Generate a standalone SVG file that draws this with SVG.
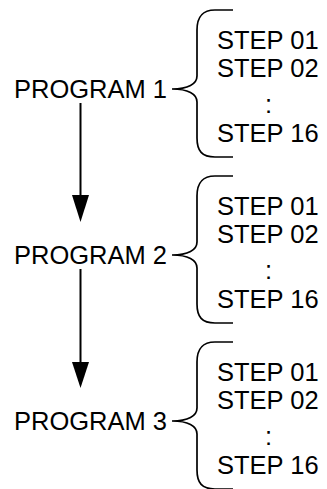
<svg xmlns="http://www.w3.org/2000/svg" width="327" height="489" viewBox="0 0 327 489">
<defs>
<style>
text{font-family:"Liberation Sans",Arial,sans-serif;font-size:25.5px;fill:#000}
.brace{fill:none;stroke:#000;stroke-width:1.7}
.conn line{stroke:#000;stroke-width:2}
.conn polygon{fill:#000}
</style>
<path id="br" class="brace" d="M233,10 H215 C202,10 197,17 197,30 V76 C197,84 188,89 172,89 C188,89 197,94 197,102 V138 C197,151 202,157 215,157 H233"/>
</defs>
<rect width="327" height="489" fill="#fff"/>
<g id="program1">
<use href="#br"/>
<text x="14" y="98">PROGRAM 1</text>
<text x="217" y="49">STEP 01</text>
<text x="217" y="77">STEP 02</text>
<text x="265" y="113">:</text>
<text x="217" y="142">STEP 16</text>
</g>
<g id="program2" transform="translate(0,166)">
<use href="#br"/>
<text x="14" y="98">PROGRAM 2</text>
<text x="217" y="49">STEP 01</text>
<text x="217" y="77">STEP 02</text>
<text x="265" y="113">:</text>
<text x="217" y="142">STEP 16</text>
</g>
<g id="program3" transform="translate(0,332)">
<use href="#br"/>
<text x="14" y="98">PROGRAM 3</text>
<text x="217" y="49">STEP 01</text>
<text x="217" y="77">STEP 02</text>
<text x="265" y="113">:</text>
<text x="217" y="142">STEP 16</text>
</g>
<g id="connectors" class="conn">
<line x1="80.5" y1="103" x2="80.5" y2="197"/>
<polygon points="72,195 89,195 80.5,222"/>
<line x1="80.5" y1="269" x2="80.5" y2="364"/>
<polygon points="72,362 89,362 80.5,388"/>
</g>
</svg>
